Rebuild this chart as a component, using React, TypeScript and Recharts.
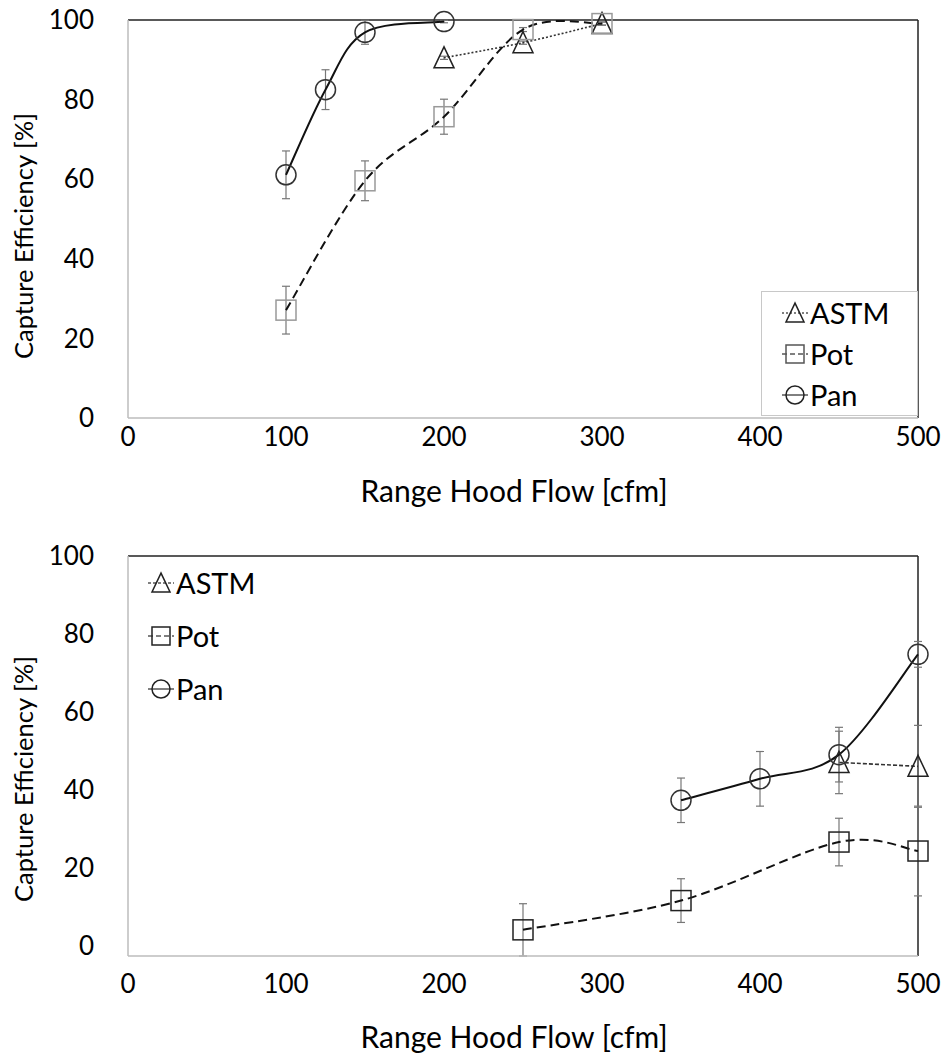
import { LineChart, Line, XAxis, YAxis, ErrorBar, ReferenceLine, Legend } from "recharts";

// flow [cfm] / capture efficiency [%] / error bar half-width [%]
const topAstmFlow = [200, 250, 300];
const topAstmCe = [90.5, 94.3, 99.1];
const topAstmErr = [0.4, 0.4, 0.4];

const topPotFlow = [100, 150, 200, 250, 300];
const topPotCe = [27.1, 59.6, 75.7, 97.6, 99.1];
const topPotErr = [6, 5, 4.4, 0.5, 0.4];

const topPanFlow = [100, 125, 150, 200];
const topPanCe = [61.1, 82.5, 96.9, 99.6];
const topPanErr = [6, 5, 3, 0.3];

const botAstmFlow = [450, 500];
const botAstmCe = [47.1, 46.1];
const botAstmErr = [8, 10.5];

const botPotFlow = [250, 350, 450, 500];
const botPotCe = [4.2, 11.7, 26.7, 24.4];
const botPotErr = [6.7, 5.6, 6.1, 11.5];

const botPanFlow = [350, 400, 450, 500];
const botPanCe = [37.4, 42.9, 49.1, 74.8];
const botPanErr = [5.7, 7, 7, 3.3];

const xTicks = [0, 100, 200, 300, 400, 500];
const yTicks = [0, 20, 40, 60, 80, 100];

const FONT = "Lato, 'Noto Sans', sans-serif";

const toRows = (flow: number[], ce: number[], err: number[]) =>
  flow.map((x, i) => ({ x, y: ce[i], err: err[i] }));

// excel-like smoothed line (catmull-rom style bezier)
const excelSmooth = (context: any) => {
  let pts: number[][] = [];
  return {
    areaStart() {},
    areaEnd() {},
    lineStart() {
      pts = [];
    },
    lineEnd() {
      const n = pts.length;
      if (!n) return;
      context.moveTo(pts[0][0], pts[0][1]);
      for (let i = 0; i < n - 1; i++) {
        const p0 = pts[Math.max(i - 1, 0)];
        const p1 = pts[i];
        const p2 = pts[i + 1];
        const p3 = pts[Math.min(i + 2, n - 1)];
        context.bezierCurveTo(
          p1[0] + (p2[0] - p0[0]) / 6,
          p1[1] + (p2[1] - p0[1]) / 6,
          p2[0] - (p3[0] - p1[0]) / 6,
          p2[1] - (p3[1] - p1[1]) / 6,
          p2[0],
          p2[1]
        );
      }
    },
    point(x: number, y: number) {
      pts.push([+x, +y]);
    },
  };
};

type Shape = "tri" | "sq" | "circ";

function marker(shape: Shape, cx: number, cy: number, s: number, stroke: string, key?: any) {
  if (shape === "circ") return <circle key={key} cx={cx} cy={cy} r={s} fill="none" stroke={stroke} strokeWidth={1.5} />;
  if (shape === "sq")
    return <rect key={key} x={cx - s} y={cy - s} width={2 * s} height={2 * s} fill="none" stroke={stroke} strokeWidth={1.5} />;
  return (
    <polygon
      key={key}
      points={`${cx},${cy - s * 1.1} ${cx - s},${cy + s} ${cx + s},${cy + s}`}
      fill="none"
      stroke={stroke}
      strokeWidth={1.5}
    />
  );
}

const dotFor = (shape: Shape, stroke: string) => (p: any) =>
  p.cx == null ? <g key={p.key} /> : marker(shape, p.cx, p.cy, 10, stroke, p.key);

interface Item {
  name: string;
  shape: Shape;
  dash: string;
  stroke: string;
}

function LegendBox({ items, boxed, rowH }: { items: Item[]; boxed: boolean; rowH: number }) {
  return (
    <div
      style={{
        border: boxed ? "1px solid #c8c8c8" : "none",
        background: boxed ? "#fff" : "transparent",
        paddingLeft: 19,
        boxSizing: "border-box",
        width: boxed ? 157 : 150,
        fontFamily: FONT,
        fontSize: 29,
        color: "#000",
      }}
    >
      {items.map((it) => (
        <div key={it.name} style={{ display: "flex", alignItems: "center", height: rowH }}>
          <svg width={28} height={24} style={{ marginRight: 1 }}>
            <line x1={1} x2={27} y1={12} y2={12} stroke="#000" strokeWidth={1} strokeDasharray={it.dash} />
            {marker(it.shape, 14, 12, 9, it.stroke)}
          </svg>
          <span>{it.name}</span>
        </div>
      ))}
    </div>
  );
}

const yTitle = (mid: number) => () =>
  (
    <text transform={`translate(33 ${mid}) rotate(-90)`} textAnchor="middle" fontSize={25.5} fill="#000" fontFamily={FONT}>
      Capture Efficiency [%]
    </text>
  );

const tickStyle = { fontSize: 26, fill: "#000", fontFamily: FONT };

interface PanelProps {
  height: number;
  top: number;
  xAxisH: number;
  titleOffset: number;
  tickGap: number;
  yTitleShift: number;
  astm: any[];
  pot: any[];
  pan: any[];
  items: Item[];
  potStroke: string;
  astmDash: string;
  legendBoxed: boolean;
  legendPos: { left: number; top: number };
  legendRowH: number;
}

function Panel(p: PanelProps) {
  const plotH = p.height - p.top - p.xAxisH;
  return (
    <LineChart width={945} height={p.height} margin={{ top: p.top, right: 27, left: 0, bottom: 0 }}>
      <XAxis
        dataKey="x"
        type="number"
        domain={[0, 500]}
        ticks={xTicks}
        height={p.xAxisH}
        tickSize={0}
        tickMargin={p.tickGap}
        tick={tickStyle}
        axisLine={{ stroke: "#bdbdbd", strokeWidth: 1.5 }}
        label={{ value: "Range Hood Flow [cfm]", position: "insideBottom", offset: p.titleOffset, dx: -9, fontSize: 30, fill: "#000", fontFamily: FONT }}
      />
      <YAxis
        dataKey="y"
        type="number"
        domain={[0, 100]}
        ticks={yTicks}
        width={128}
        tickSize={0}
        tickMargin={34}
        tick={tickStyle}
        axisLine={{ stroke: "#bdbdbd", strokeWidth: 1.5 }}
        label={{ content: yTitle(p.top + plotH / 2 + p.yTitleShift) }}
      />
      <ReferenceLine y={100} stroke="#222" strokeWidth={1.5} />
      <ReferenceLine x={500} stroke="#222" strokeWidth={1.5} />
      <Line
        data={p.astm}
        dataKey="y"
        type={excelSmooth as any}
        stroke="#333"
        strokeWidth={1.6}
        strokeDasharray={p.astmDash}
        dot={dotFor("tri", "#222")}
        activeDot={false}
        isAnimationActive={false}
      >
        <ErrorBar dataKey="err" width={4} stroke="#777" strokeWidth={1.2} direction="y" />
      </Line>
      <Line
        data={p.pot}
        dataKey="y"
        type={excelSmooth as any}
        stroke="#111"
        strokeWidth={2}
        strokeDasharray="9 5"
        dot={dotFor("sq", p.potStroke)}
        activeDot={false}
        isAnimationActive={false}
      >
        <ErrorBar dataKey="err" width={4} stroke="#777" strokeWidth={1.2} direction="y" />
      </Line>
      <Line
        data={p.pan}
        dataKey="y"
        type={excelSmooth as any}
        stroke="#111"
        strokeWidth={2}
        dot={dotFor("circ", "#333")}
        activeDot={false}
        isAnimationActive={false}
      >
        <ErrorBar dataKey="err" width={4} stroke="#777" strokeWidth={1.2} direction="y" />
      </Line>
      <Legend
        layout="vertical"
        align="center"
        verticalAlign="middle"
        wrapperStyle={{ position: "absolute", left: p.legendPos.left, top: p.legendPos.top, width: "auto" }}
        content={() => <LegendBox items={p.items} boxed={p.legendBoxed} rowH={p.legendRowH} />}
      />
    </LineChart>
  );
}

export default function App() {
  const topItems: Item[] = [
    { name: "ASTM", shape: "tri", dash: "2 2", stroke: "#222" },
    { name: "Pot", shape: "sq", dash: "5 3", stroke: "#555" },
    { name: "Pan", shape: "circ", dash: "", stroke: "#222" },
  ];
  const botItems: Item[] = [
    { name: "ASTM", shape: "tri", dash: "3 2", stroke: "#222" },
    { name: "Pot", shape: "sq", dash: "5 3", stroke: "#222" },
    { name: "Pan", shape: "circ", dash: "", stroke: "#222" },
  ];
  return (
    <div style={{ position: "absolute", left: 0, top: 0, width: 945, height: 1060, background: "#fff", fontFamily: FONT }}>
      <Panel
        height={520}
        top={20}
        xAxisH={102}
        titleOffset={18}
        tickGap={10}
        yTitleShift={17}
        astm={toRows(topAstmFlow, topAstmCe, topAstmErr)}
        pot={toRows(topPotFlow, topPotCe, topPotErr)}
        pan={toRows(topPanFlow, topPanCe, topPanErr)}
        items={topItems}
        potStroke="#999"
        astmDash="2 2"
        legendBoxed={true}
        legendPos={{ left: 761, top: 291 }}
        legendRowH={41}
      />
      <Panel
        height={540}
        top={36}
        xAxisH={104}
        titleOffset={12}
        tickGap={19}
        yTitleShift={23}
        astm={toRows(botAstmFlow, botAstmCe, botAstmErr)}
        pot={toRows(botPotFlow, botPotCe, botPotErr)}
        pan={toRows(botPanFlow, botPanCe, botPanErr)}
        items={botItems}
        potStroke="#222"
        astmDash="4 2"
        legendBoxed={false}
        legendPos={{ left: 128, top: 36 }}
        legendRowH={53}
      />
    </div>
  );
}
